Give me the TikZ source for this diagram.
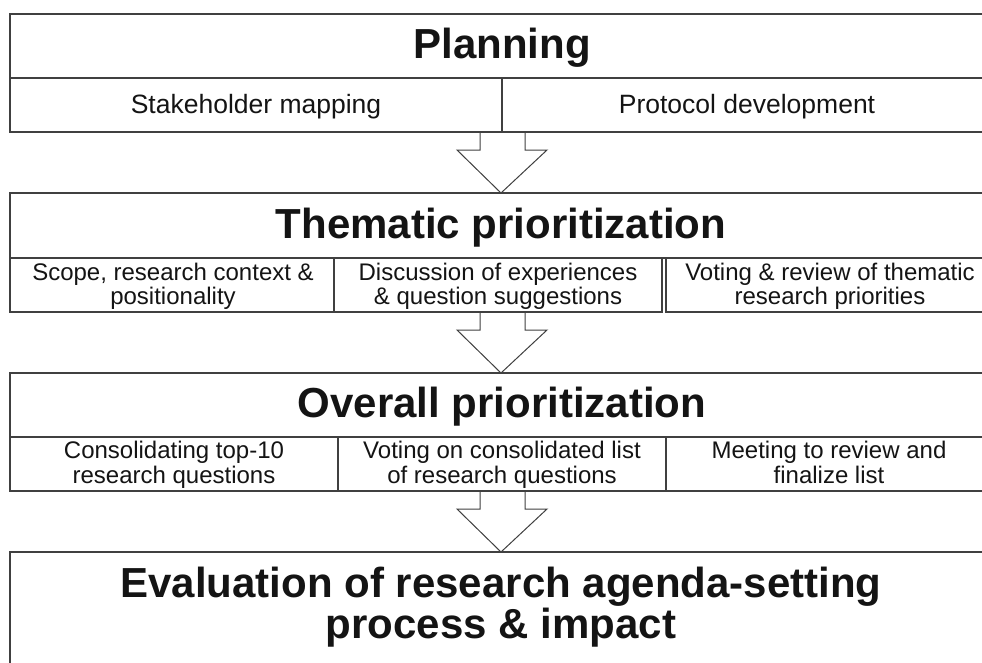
\documentclass[tikz,border=0pt]{standalone}
\usepackage{fontspec}
\setmainfont{Liberation Sans}
\usetikzlibrary{calc}
\definecolor{lc}{HTML}{404040}
\definecolor{tc}{HTML}{141414}
\begin{document}
\begin{tikzpicture}[x=1pt,y=-1pt,
  cell/.style={draw=lc, line width=1.1pt, rectangle, inner sep=0pt, outer sep=0pt, minimum height=54pt},
  row/.style={draw=lc, line width=1.1pt, rectangle, inner sep=0pt, outer sep=0pt, minimum width=982pt},
  ttl/.style={font=\fontsize{42}{37}\selectfont\bfseries, text=tc, anchor=base, inner sep=0pt, align=center},
  psub/.style={font=\fontsize{26.5}{28}\selectfont, text=tc, anchor=base, inner sep=0pt},
  sub/.style={font=\fontsize{24}{24}\selectfont, text=tc, anchor=base, inner sep=0pt, align=center},
  osub/.style={sub, font=\fontsize{24}{25}\selectfont},
  blk/.style={draw=lc, line width=1pt, line join=miter}]
\useasboundingbox (0,0) rectangle (982,662);
\clip (0,0) rectangle (982,662);
\fill[white] (0,0) rectangle (982,662);

% Planning
\node[row, minimum height=64pt] (p) at (501,46) {};
\node[cell, minimum width=492pt] (p1) at (256,105) {};
\node[cell, minimum width=490pt] (p2) at (747,105) {};
\node[ttl] (pt) at (502,58) {Planning};
\node[psub] (p1t) at (256,113) {Stakeholder mapping};
\node[psub] (p2t) at (747,113) {Protocol development};

% Thematic
\node[row, minimum height=65pt] (t) at (501,225.5) {};
\node[cell, minimum width=324pt] (t1) at (172,285) {};
\node[cell, minimum width=328pt] (t2) at (498,285) {};
\node[cell, minimum width=326pt] (t3) at (829,285) {};
\node[ttl] (tt) at (501,238) {Thematic prioritization};
\node[sub] (t1t) at (173,304) {Scope, research context \&\\positionality};
\node[sub] (t2t) at (498,304) {Discussion of experiences\\\& question suggestions};
\node[sub] (t3t) at (830,304) {Voting \& review of thematic\\research priorities};

% Overall
\node[row, minimum height=64pt] (o) at (501,405) {};
\node[cell, minimum width=328pt] (o1) at (174,464) {};
\node[cell, minimum width=328pt] (o2) at (502,464) {};
\node[cell, minimum width=326pt] (o3) at (829,464) {};
\node[ttl] (ot) at (502,417) {Overall prioritization};
\node[osub] (o1t) at (174,483) {Consolidating top-10\\research questions};
\node[osub] (o2t) at (502,483) {Voting on consolidated list\\of research questions};
\node[osub] (o3t) at (829,483) {Meeting to review and\\finalize list};

% Evaluation
\node[row, minimum height=148pt] (e) at (501,626) {};
\node[ttl] (et) at (501,638) {Evaluation of research agenda-setting\\process \& impact};

% Block arrows
\draw[blk] ($(p1.south east)+(-22,0)$) -- ++(0,18) -- ++(-23,0) -- (t.north)
  -- ($(t.north)+(46,-43)$) -- ++(-22,0) -- ++(0,-18);
\draw[blk] ($(p1.south east |- t1.south)+(-22,0)$) -- ++(0,18) -- ++(-23,0) -- (o.north)
  -- ($(o.north)+(46,-43)$) -- ++(-22,0) -- ++(0,-18);
\draw[blk] ($(p1.south east |- o1.south)+(-22,0)$) -- ++(0,18) -- ++(-23,0) -- (e.north)
  -- ($(e.north)+(46,-43)$) -- ++(-22,0) -- ++(0,-18);
\end{tikzpicture}
\end{document}
